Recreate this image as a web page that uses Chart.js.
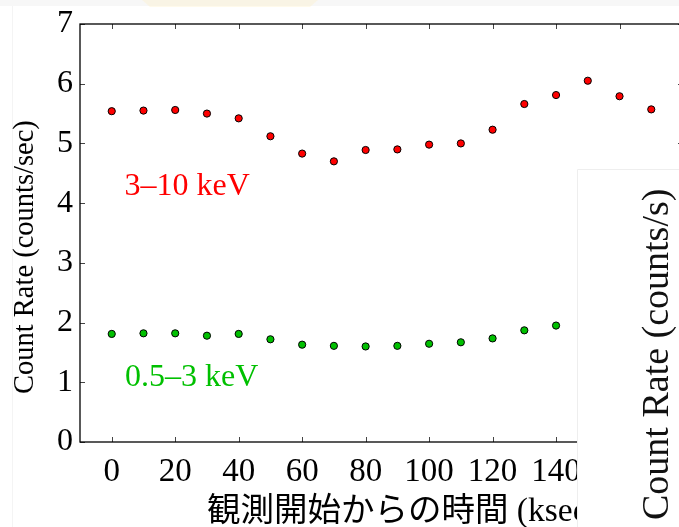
<!DOCTYPE html>
<html>
<head>
<meta charset="utf-8">
<script src="https://cdn.jsdelivr.net/npm/chart.js@4/dist/chart.umd.min.js"></script>
<style>
  html, body { margin: 0; padding: 0; background: #fff; overflow: hidden; }
  #wrap { position: relative; width: 700px; height: 527px; }
</style>
</head>
<body>
<div id="wrap"><canvas id="c" width="700" height="527"></canvas></div>
<script>
// Light curves: count rate vs. time since start of observation (ksec)
const hardTime = [0, 10, 20, 30, 40, 50, 60, 70, 80, 90, 100, 110, 120, 130, 140, 150, 160, 170];
const hardRate = [5.54, 5.55, 5.56, 5.50, 5.42, 5.12, 4.83, 4.70, 4.89, 4.90, 4.98, 5.00, 5.23, 5.66, 5.81, 6.05, 5.79, 5.57];

const softTime = [0, 10, 20, 30, 40, 50, 60, 70, 80, 90, 100, 110, 120, 130, 140];
const softRate = [1.81, 1.82, 1.82, 1.78, 1.81, 1.72, 1.63, 1.61, 1.60, 1.61, 1.645, 1.67, 1.735, 1.87, 1.95];

const xTicks = [0, 20, 40, 60, 80, 100, 120, 140, 160];
const yTicks = [0, 1, 2, 3, 4, 5, 6, 7];

const bandLabels = ['3\u201310 keV', '0.5\u20133 keV'];
const xTitle = '観測開始からの時間 (ksec)';
const yTitle = 'Count Rate (counts/sec)';
const insetTitle = 'Count Rate (counts/s)';

const RED = '#ff0000';
const GREEN = '#00c000';
const SERIF = '"Liberation Serif", "Times New Roman", serif';
const MIXED = '"Liberation Serif", "Noto Sans CJK JP", serif';

function toPoints(xs, ys) { return xs.map((x, i) => ({ x, y: ys[i] })); }

// Frame, inward tick marks, titles, band labels and the overlapping inset panel
const decor = {
  id: 'decor',
  beforeDraw(chart) {
    const ctx = chart.ctx;
    ctx.save();
    ctx.fillStyle = '#fff';
    ctx.fillRect(0, 0, chart.width, chart.height);
    // faint page edge at the top and left
    ctx.fillStyle = '#f7f7f7';
    ctx.fillRect(0, 0, chart.width, 6);
    ctx.fillStyle = 'rgba(255,240,190,0.3)';
    ctx.beginPath();
    ctx.moveTo(142, 0); ctx.lineTo(318, 0); ctx.lineTo(310, 7); ctx.lineTo(150, 7);
    ctx.closePath(); ctx.fill();
    ctx.strokeStyle = '#f4f4f4';
    ctx.lineWidth = 1;
    ctx.beginPath(); ctx.moveTo(12.5, 6); ctx.lineTo(12.5, chart.height); ctx.stroke();
    ctx.restore();
  },
  beforeDatasetsDraw(chart) {
    const { ctx, chartArea: a, scales: { x, y } } = chart;
    ctx.save();
    ctx.strokeStyle = '#444';
    ctx.lineWidth = 1;
    ctx.beginPath();
    xTicks.forEach(v => {
      const px = Math.round(x.getPixelForValue(v)) + 0.5;
      ctx.moveTo(px, a.bottom); ctx.lineTo(px, a.bottom - 5);
      ctx.moveTo(px, a.top); ctx.lineTo(px, a.top + 5);
    });
    yTicks.forEach(v => {
      const py = Math.round(y.getPixelForValue(v)) + 0.5;
      ctx.moveTo(a.left, py); ctx.lineTo(a.left + 5, py);
      ctx.moveTo(a.right, py); ctx.lineTo(a.right - 5, py);
    });
    ctx.stroke();
    ctx.strokeStyle = '#000';
    ctx.lineWidth = 1.3;
    ctx.strokeRect(a.left, a.top, a.right - a.left, a.bottom - a.top);

    // band labels
    ctx.font = '32px ' + SERIF;
    ctx.textAlign = 'left';
    ctx.textBaseline = 'alphabetic';
    ctx.fillStyle = RED;
    ctx.fillText(bandLabels[0], x.getPixelForValue(4), y.getPixelForValue(4.13));
    ctx.fillStyle = GREEN;
    ctx.fillText(bandLabels[1], x.getPixelForValue(4.2), y.getPixelForValue(0.93));

    // axis titles
    ctx.fillStyle = '#000';
    ctx.font = '33.5px ' + MIXED;
    ctx.textAlign = 'left';
    ctx.fillText(xTitle, 207, 521);
    ctx.save();
    ctx.font = '28.5px ' + SERIF;
    ctx.translate(33, 394);
    ctx.rotate(-Math.PI / 2);
    ctx.textAlign = 'left';
    ctx.fillText(yTitle, 0, 0);
    ctx.restore();
    ctx.restore();
  },
  afterDraw(chart) {
    const ctx = chart.ctx;
    ctx.save();
    ctx.fillStyle = '#fff';
    ctx.fillRect(577, 169, chart.width - 577, chart.height - 169);
    ctx.strokeStyle = '#eeeeee';
    ctx.lineWidth = 1;
    ctx.beginPath();
    ctx.moveTo(577.5, chart.height); ctx.lineTo(577.5, 169.5); ctx.lineTo(chart.width, 169.5);
    ctx.stroke();
    ctx.fillStyle = '#111';
    ctx.font = '38px ' + SERIF;
    ctx.translate(668, 520);
    ctx.rotate(-Math.PI / 2);
    ctx.textAlign = 'left';
    ctx.textBaseline = 'alphabetic';
    ctx.fillText(insetTitle, 0, 0);
    ctx.restore();
  }
};

new Chart(document.getElementById('c'), {
  type: 'scatter',
  data: {
    datasets: [
      {
        label: bandLabels[0],
        data: toPoints(hardTime, hardRate),
        backgroundColor: RED,
        borderColor: '#000',
        borderWidth: 1,
        pointRadius: 3.6
      },
      {
        label: bandLabels[1],
        data: toPoints(softTime, softRate),
        backgroundColor: GREEN,
        borderColor: '#000',
        borderWidth: 1,
        pointRadius: 3.6
      }
    ]
  },
  options: {
    responsive: false,
    devicePixelRatio: 1,
    animation: false,
    events: [],
    layout: { padding: { top: 24, right: 17, left: 0, bottom: 0 } },
    plugins: { legend: { display: false }, tooltip: { enabled: false } },
    scales: {
      x: {
        type: 'linear',
        min: -10,
        max: 180,
        afterBuildTicks: s => { s.ticks = xTicks.map(v => ({ value: v })); },
        afterFit: s => { s.height = 85; s.paddingLeft = 0; s.paddingRight = 0; },
        grid: { display: false, drawTicks: false },
        border: { display: false },
        ticks: {
          color: '#000',
          padding: 11,
          maxRotation: 0,
          autoSkip: false,
          font: { family: SERIF, size: 33 }
        }
      },
      y: {
        min: 0,
        max: 7,
        afterBuildTicks: s => { s.ticks = yTicks.map(v => ({ value: v })); },
        afterFit: s => { s.width = 80; s.paddingTop = 0; s.paddingBottom = 0; },
        grid: { display: false, drawTicks: false },
        border: { display: false },
        ticks: {
          color: '#000',
          padding: 7,
          autoSkip: false,
          font: { family: SERIF, size: 32 }
        }
      }
    }
  },
  plugins: [decor]
});
</script>
</body>
</html>
